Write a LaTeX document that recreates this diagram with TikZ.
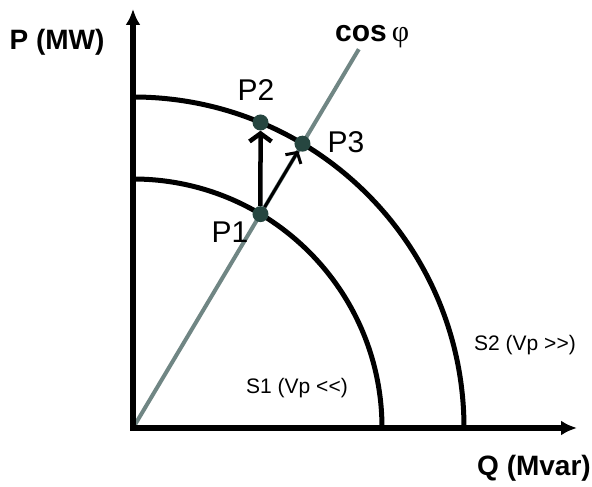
\documentclass[tikz,border=0pt]{standalone}
\usepackage{fontspec}
\setmainfont{Liberation Sans}
\newfontfamily\phifont{Liberation Serif}
\usetikzlibrary{arrows.meta,calc}
\definecolor{dotcol}{RGB}{38,70,64}
\definecolor{pfline}{RGB}{112,134,132}
\tikzset{
  axis/.style={line width=5.5pt, {Latex[length=16pt,width=15pt]}-{Latex[length=16pt,width=15pt]}},
  circ/.style={line width=5pt},
  pt/.style={circle, fill=dotcol, inner sep=0pt, minimum size=16pt},
  plbl/.style={font=\fontsize{30}{32}\selectfont},
  albl/.style={font=\fontsize{28}{30}\selectfont\bfseries},
  slbl/.style={font=\fontsize{21}{24}\selectfont}
}
\begin{document}
\begin{tikzpicture}[x=1pt,y=1pt]
        \useasboundingbox (0,0) rectangle (592,487);
        \coordinate (O) at (133,59);
        \coordinate (Ytip) at (133,478);
        \coordinate (Xtip) at (577,59);
        \coordinate (Cend) at ($(O)+(59.2:441)$);
        % power factor line and the two circles
        \draw[line width=4pt, pfline] (O) -- (Cend);
        \draw[circ] ($(O)+(249,0)$) arc[start angle=0, end angle=90, radius=249];
        \draw[circ] ($(O)+(331,0)$) arc[start angle=0, end angle=90, radius=331];
        \draw[axis] (Ytip) |- (Xtip);
        \node[pt] (P1) at ($(O)+(59.2:249)$) {};
        \node[pt] (P2) at ($(O)+(127.5,305.5)$) {};
        \node[pt] (P3) at ($(O)+(59.2:331)$) {};
        \draw[line width=4.5pt, -{Straight Barb[length=8pt,width=22pt]}] (P1) -- (P2);
        \draw[line width=3pt, -{Straight Barb[length=8pt,width=18pt]}] (P1) -- (P3);
        \node[plbl] (p1lbl) at (230,255) {P1};
        \node[plbl] (p2lbl) at (256,397) {P2};
        \node[plbl] (p3lbl) at (346,345) {P3};
        \node[albl, font=\fontsize{30}{32}\selectfont\bfseries, anchor=base west, inner sep=0pt] (cphi) at (335,445) {cos\,{\mdseries\phifont φ}};
        \node[albl] (plbl) at (57,445) {P (MW)};
        \node[albl] (qlbl) at (534,19) {Q (Mvar)};
        \node[slbl] (s1lbl) at (297,99) {S1 (Vp <\kern0pt<)};
        \node[slbl] (s2lbl) at (525,142) {S2 (Vp >\kern0pt>)};
\end{tikzpicture}
\end{document}
